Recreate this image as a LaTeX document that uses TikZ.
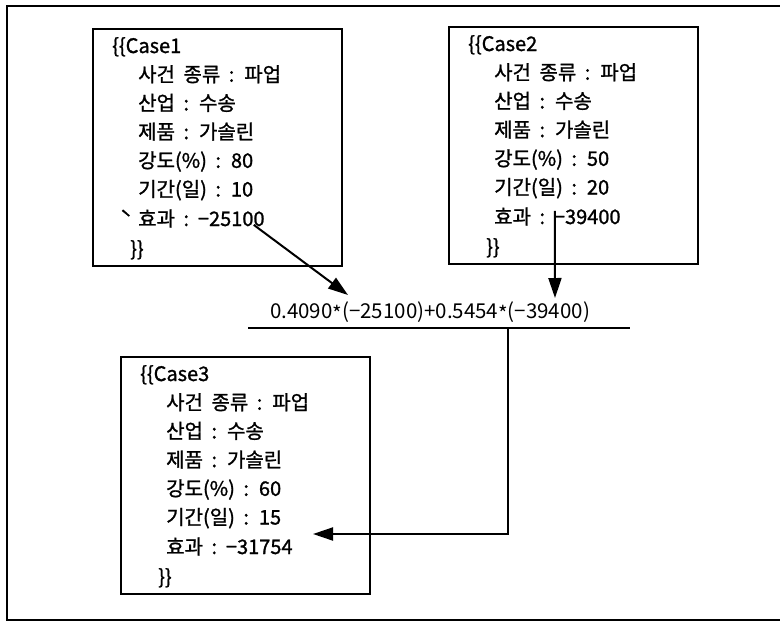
\documentclass[tikz,border=0pt]{standalone}
\usepackage{fontspec}
\setmainfont{Noto Sans CJK KR}
\newfontfamily\cardfont{Noto Sans CJK KR}[FakeBold=1.2]
\newcommand\cardtext{\cardfont\fontsize{20}{24}\selectfont\spaceskip=8.5pt\relax}
\newcommand\mulstar{\raisebox{-0.3ex}{*}}
\usetikzlibrary{arrows.meta,calc}
\tikzset{
  casebox/.style={draw,line width=2.4pt,minimum width=249pt,minimum height=237pt,inner sep=0,anchor=north west},
  caseline/.style={anchor=base west,inner sep=0,font=\cardtext},
  link/.style={line width=2pt,-{Triangle[length=20pt,width=13pt]}},
}
% one case card: #1 name, #2 top-left, #3 number, #4 strength, #5 days, #6 effect
\newcommand\casecard[6]{{%
  \node[casebox] (#1) at (#2) {};
  \node[caseline] (#1-t) at ($(#1.north west)+(20,25)$) {\{\{Case#3};
  \node[caseline] (#1-a) at ($(#1-t.base west)+(26,28.7)$) {사건 종류 : 파업};
  \node[caseline] (#1-b) at ($(#1-a.base west)+(0,28.7)$) {산업 : 수송};
  \node[caseline] (#1-c) at ($(#1-b.base west)+(0,28.7)$) {제품 : 가솔린};
  \node[caseline] (#1-d) at ($(#1-c.base west)+(0,28.7)$) {강도(\%) : #4};
  \node[caseline] (#1-f) at ($(#1-d.base west)+(0,28.7)$) {기간(일) : #5};
  \node[caseline] (#1-e) at ($(#1-f.base west)+(0,29.5)$) {효과 :};
  \node[caseline] (#1-v) at ($(#1-e.base east)+(8.5,0)$) {#6};
  \node[caseline] (#1-z) at ($(#1-e.base west)+(-8,30)$) {\}\}};
}}

\begin{document}
\begin{tikzpicture}[x=1pt,y=-1pt,line join=miter]
\useasboundingbox (0,0) rectangle (780,622);
% ---------- outer frame (open on the right) ----------
\draw[line width=2pt] (781,6) -- (7,6) -- (7,620) -- (781,620);
% ---------- the three cases ----------
\casecard{c1}{92,28}{1}{80}{10}{−25100}
\node[caseline,anchor=base east] (c1-tick) at ($(c1-e.base west)+(-6,0)$) {ˋ};
\casecard{c2}{448,26}{2}{50}{20}{−39400}
\casecard{c3}{120,356}{3}{60}{15}{−31754}
% ---------- combination ----------
\node[inner sep=0,font=\fontsize{20.5}{24}\selectfont] (formula) at (430,312) {0.4090\mulstar(−25100)+0.5454\mulstar(−39400)};
\coordinate (bar-l) at (248,328);
\coordinate (bar-r) at (630,328);
\coordinate (bar-m) at (508,328);
\draw[line width=2.2pt] (bar-l) -- (bar-r);
\coordinate (in1) at (348,295);
\coordinate (in2) at (555,298);
\coordinate (out) at (313,534);
\draw[link] ($(c1-v.east)+(-11,6)$) -- (in1);
\draw[link] ($(c2-v.west)+(1,-6)$) -- (in2);
\draw[link] (bar-m) |- (out);
\end{tikzpicture}
\end{document}
